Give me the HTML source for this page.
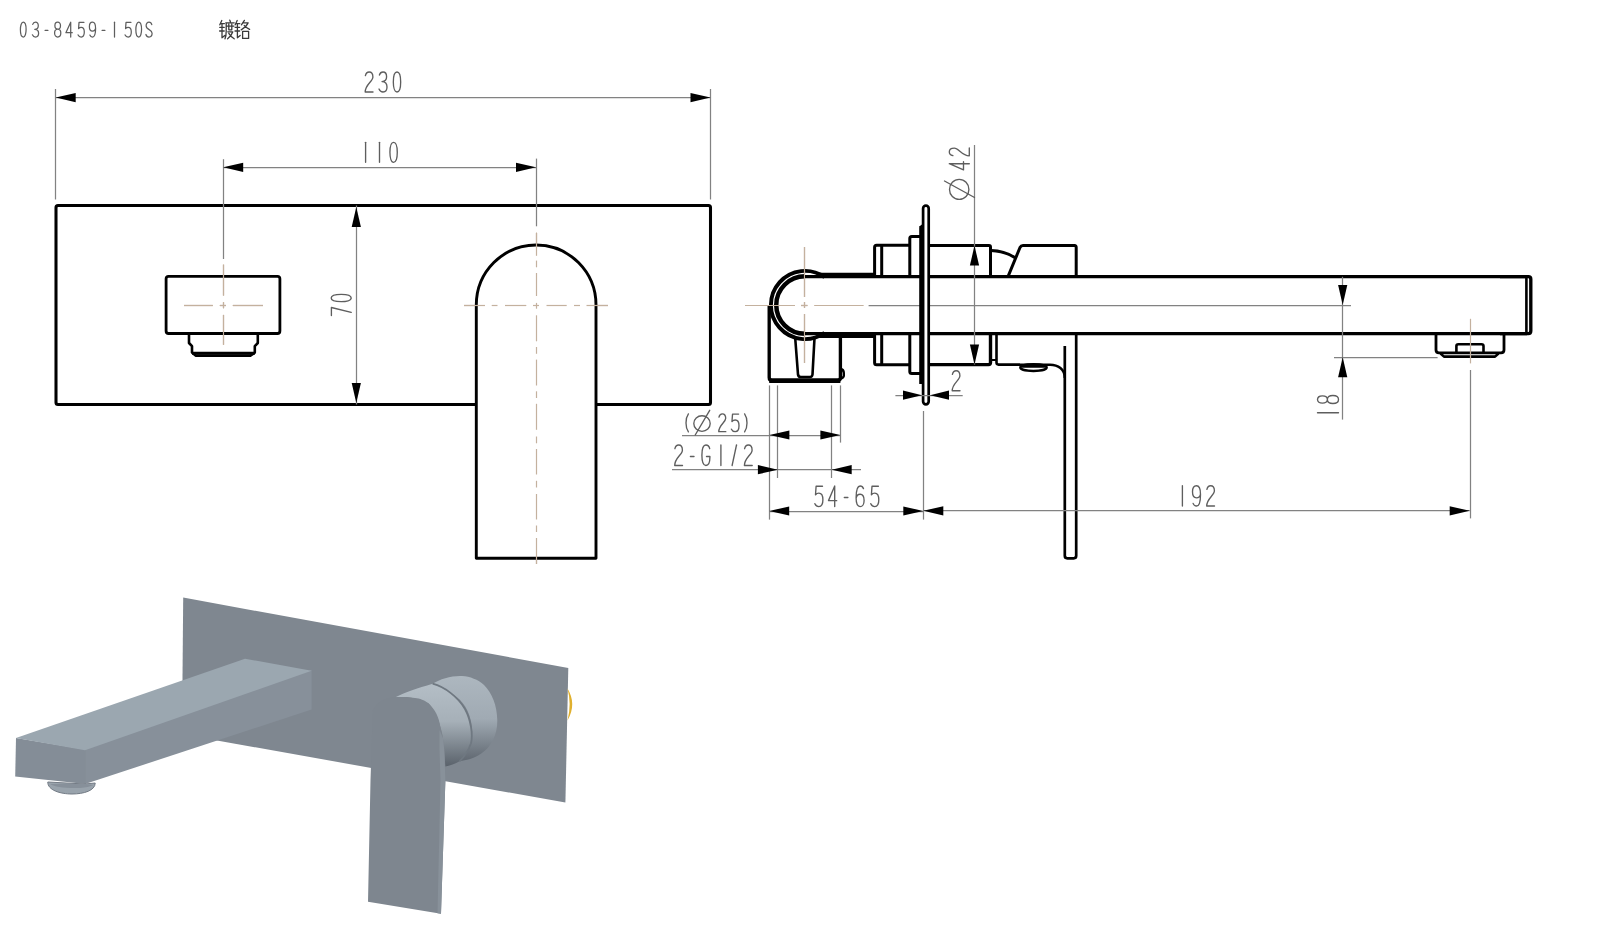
<!DOCTYPE html>
<html><head><meta charset="utf-8"><title>03-8459-150S</title>
<style>html,body{margin:0;padding:0;background:#fff;width:1600px;height:936px;overflow:hidden;font-family:"Liberation Sans",sans-serif;} svg{display:block;}</style>
</head><body>
<svg width="1600" height="936" viewBox="0 0 1600 936">
<rect x="0" y="0" width="1600" height="936" fill="#ffffff"/>
<path transform="translate(20.15,22.20) scale(0.7750,0.7400)" d="M4,0 C8.9,0 8.9,20 4,20 C-0.9,20 -0.9,0 4,0 Z" vector-effect="non-scaling-stroke" fill="none" stroke="#5e5e5e" stroke-width="1.25" stroke-linecap="round" stroke-linejoin="round"/><path transform="translate(32.40,22.20) scale(0.7750,0.7400)" d="M0.4,3 C1,1 2.4,0 4,0 C6.3,0 7.6,2 7.6,4.8 C7.6,7.8 5.6,9.6 3,9.6 C6,9.6 8,11.8 8,15 C8,18.3 6.3,20 4,20 C2.3,20 0.9,19 0,17" vector-effect="non-scaling-stroke" fill="none" stroke="#5e5e5e" stroke-width="1.25" stroke-linecap="round" stroke-linejoin="round"/><path transform="translate(43.40,22.20) scale(0.7750,0.7400)" d="M2.2,11.2 L5.8,11.2" vector-effect="non-scaling-stroke" fill="none" stroke="#5e5e5e" stroke-width="1.25" stroke-linecap="round" stroke-linejoin="round"/><path transform="translate(54.60,22.20) scale(0.7750,0.7400)" d="M4,9.4 C1.4,9.4 0.4,7.5 0.4,4.7 C0.4,1.8 1.8,0 4,0 C6.2,0 7.6,1.8 7.6,4.7 C7.6,7.5 6.6,9.4 4,9.4 C1.5,9.4 0,11.6 0,14.7 C0,18 1.7,20 4,20 C6.3,20 8,18 8,14.7 C8,11.6 6.5,9.4 4,9.4 Z" vector-effect="non-scaling-stroke" fill="none" stroke="#5e5e5e" stroke-width="1.25" stroke-linecap="round" stroke-linejoin="round"/><path transform="translate(65.90,22.20) scale(0.7750,0.7400)" d="M6.2,20 L6.2,0 L0,14.2 L8.2,14.2" vector-effect="non-scaling-stroke" fill="none" stroke="#5e5e5e" stroke-width="1.25" stroke-linecap="round" stroke-linejoin="round"/><path transform="translate(78.10,22.20) scale(0.7750,0.7400)" d="M7.6,0.2 L1.2,0.2 L0.6,8.6 C1.5,7.4 2.7,6.9 4,6.9 C6.5,6.9 8,9.5 8,13.4 C8,17.4 6.3,20 4,20 C2.2,20 0.8,19 0,17.2" vector-effect="non-scaling-stroke" fill="none" stroke="#5e5e5e" stroke-width="1.25" stroke-linecap="round" stroke-linejoin="round"/><path transform="translate(89.40,22.20) scale(0.7750,0.7400)" d="M0.6,17.4 C1.2,19.1 2.4,20 4,20 C6.6,20 8,15.8 8,8.5 C8,3 6.2,0 4,0 C1.6,0 0,2.6 0,6 C0,9.6 1.7,12 4,12 C6,12 7.5,10.6 8,8.2" vector-effect="non-scaling-stroke" fill="none" stroke="#5e5e5e" stroke-width="1.25" stroke-linecap="round" stroke-linejoin="round"/><path transform="translate(100.40,22.20) scale(0.7750,0.7400)" d="M2.2,11.2 L5.8,11.2" vector-effect="non-scaling-stroke" fill="none" stroke="#5e5e5e" stroke-width="1.25" stroke-linecap="round" stroke-linejoin="round"/><path transform="translate(111.40,22.20) scale(0.7750,0.7400)" d="M4,0 L4,20" vector-effect="non-scaling-stroke" fill="none" stroke="#5e5e5e" stroke-width="1.25" stroke-linecap="round" stroke-linejoin="round"/><path transform="translate(125.10,22.20) scale(0.7750,0.7400)" d="M7.6,0.2 L1.2,0.2 L0.6,8.6 C1.5,7.4 2.7,6.9 4,6.9 C6.5,6.9 8,9.5 8,13.4 C8,17.4 6.3,20 4,20 C2.2,20 0.8,19 0,17.2" vector-effect="non-scaling-stroke" fill="none" stroke="#5e5e5e" stroke-width="1.25" stroke-linecap="round" stroke-linejoin="round"/><path transform="translate(135.60,22.20) scale(0.7750,0.7400)" d="M4,0 C8.9,0 8.9,20 4,20 C-0.9,20 -0.9,0 4,0 Z" vector-effect="non-scaling-stroke" fill="none" stroke="#5e5e5e" stroke-width="1.25" stroke-linecap="round" stroke-linejoin="round"/><path transform="translate(145.90,22.20) scale(0.7750,0.7400)" d="M7.6,3.4 C7.1,1.2 5.7,0 4,0 C1.8,0 0.3,1.8 0.3,4.8 C0.3,11 8,9 8,15 C8,18.2 6.3,20 4,20 C2.1,20 0.6,18.8 0,16.6" vector-effect="non-scaling-stroke" fill="none" stroke="#5e5e5e" stroke-width="1.25" stroke-linecap="round" stroke-linejoin="round"/>
<path transform="translate(219.2,20.2)" d="M2.6,0.3 L0.6,4.6 M1.6,3.4 L5.2,3.4 M0.6,7.2 L5,7.2 M0.4,10.8 L5,10.8 M2.8,3.6 L2.8,17.6 L5.6,15.2 M10.6,0 L11.2,1.6 M6.6,2.6 L15,2.6 M7,2.6 L7,11 Q7,15.8 5.8,18.6 M7.6,6 L14.6,6 M9.6,4 L9.6,9.6 M12.6,4 L12.6,9.6 M9.6,9.6 L12.6,9.6 M8.6,11.6 L13.6,11.6 Q12.4,15.6 8.4,18.6 M9.6,13.2 Q11.6,16.6 15,18.6" fill="none" stroke="#3a3a3a" stroke-width="1.3" stroke-linecap="round" stroke-linejoin="round"/>
<path transform="translate(234.6,20.2)" d="M2.6,0.3 L0.6,4.6 M1.6,3.4 L5.2,3.4 M0.6,7.2 L5,7.2 M0.4,10.8 L5,10.8 M2.8,3.6 L2.8,17.6 L5.6,15.2 M9.8,0.2 L6.8,4.6 M9,2.6 L13.6,2.6 Q11.6,7 6.6,9.6 M9.6,5.2 Q11.6,7.6 15,9.2 M8,11.2 L14,11.2 L14,18.2 L8,18.2 Z" fill="none" stroke="#3a3a3a" stroke-width="1.3" stroke-linecap="round" stroke-linejoin="round"/>
<line x1="464.00" y1="305.50" x2="485.00" y2="305.50" stroke="#c4b19e" stroke-width="1.2" stroke-linecap="butt"/><line x1="491.70" y1="305.50" x2="497.50" y2="305.50" stroke="#c4b19e" stroke-width="1.2" stroke-linecap="butt"/><line x1="505.00" y1="305.50" x2="526.30" y2="305.50" stroke="#c4b19e" stroke-width="1.2" stroke-linecap="butt"/><line x1="533.00" y1="305.50" x2="539.00" y2="305.50" stroke="#c4b19e" stroke-width="1.2" stroke-linecap="butt"/><line x1="546.50" y1="305.50" x2="566.70" y2="305.50" stroke="#c4b19e" stroke-width="1.2" stroke-linecap="butt"/><line x1="574.00" y1="305.50" x2="580.00" y2="305.50" stroke="#c4b19e" stroke-width="1.2" stroke-linecap="butt"/><line x1="586.50" y1="305.50" x2="608.00" y2="305.50" stroke="#c4b19e" stroke-width="1.2" stroke-linecap="butt"/>
<line x1="536.50" y1="232.70" x2="536.50" y2="255.80" stroke="#c4b19e" stroke-width="1.2" stroke-linecap="butt"/><line x1="536.50" y1="260.60" x2="536.50" y2="267.30" stroke="#c4b19e" stroke-width="1.2" stroke-linecap="butt"/><line x1="536.50" y1="273.00" x2="536.50" y2="296.00" stroke="#c4b19e" stroke-width="1.2" stroke-linecap="butt"/><line x1="536.50" y1="302.90" x2="536.50" y2="308.70" stroke="#c4b19e" stroke-width="1.2" stroke-linecap="butt"/><line x1="536.50" y1="315.30" x2="536.50" y2="341.30" stroke="#c4b19e" stroke-width="1.2" stroke-linecap="butt"/><line x1="536.50" y1="347.00" x2="536.50" y2="353.80" stroke="#c4b19e" stroke-width="1.2" stroke-linecap="butt"/><line x1="536.50" y1="359.60" x2="536.50" y2="385.50" stroke="#c4b19e" stroke-width="1.2" stroke-linecap="butt"/><line x1="536.50" y1="391.30" x2="536.50" y2="398.00" stroke="#c4b19e" stroke-width="1.2" stroke-linecap="butt"/><line x1="536.50" y1="403.80" x2="536.50" y2="429.80" stroke="#c4b19e" stroke-width="1.2" stroke-linecap="butt"/><line x1="536.50" y1="436.50" x2="536.50" y2="443.30" stroke="#c4b19e" stroke-width="1.2" stroke-linecap="butt"/><line x1="536.50" y1="449.00" x2="536.50" y2="474.50" stroke="#c4b19e" stroke-width="1.2" stroke-linecap="butt"/><line x1="536.50" y1="480.80" x2="536.50" y2="487.50" stroke="#c4b19e" stroke-width="1.2" stroke-linecap="butt"/><line x1="536.50" y1="494.00" x2="536.50" y2="519.50" stroke="#c4b19e" stroke-width="1.2" stroke-linecap="butt"/><line x1="536.50" y1="525.50" x2="536.50" y2="532.00" stroke="#c4b19e" stroke-width="1.2" stroke-linecap="butt"/><line x1="536.50" y1="538.00" x2="536.50" y2="564.00" stroke="#c4b19e" stroke-width="1.2" stroke-linecap="butt"/>
<line x1="184.00" y1="305.50" x2="212.80" y2="305.50" stroke="#c4b19e" stroke-width="1.2" stroke-linecap="butt"/><line x1="219.80" y1="305.50" x2="226.00" y2="305.50" stroke="#c4b19e" stroke-width="1.2" stroke-linecap="butt"/><line x1="232.80" y1="305.50" x2="263.00" y2="305.50" stroke="#c4b19e" stroke-width="1.2" stroke-linecap="butt"/>
<line x1="223.50" y1="264.60" x2="223.50" y2="295.60" stroke="#c4b19e" stroke-width="1.2" stroke-linecap="butt"/><line x1="223.50" y1="302.20" x2="223.50" y2="308.30" stroke="#c4b19e" stroke-width="1.2" stroke-linecap="butt"/><line x1="223.50" y1="314.90" x2="223.50" y2="344.80" stroke="#c4b19e" stroke-width="1.2" stroke-linecap="butt"/>
<rect x="56" y="205.5" width="654.5" height="199" rx="2" fill="none" stroke="#000" stroke-width="3.05"/>
<path d="M476.3,558.3 L476.3,305 A59.85,60 0 0 1 596,305 L596,558.3 Z" fill="#fff" stroke="#000" stroke-width="2.9" stroke-linejoin="round"/>
<line x1="536.50" y1="232.70" x2="536.50" y2="255.80" stroke="#c4b19e" stroke-width="1.2" stroke-linecap="butt"/><line x1="536.50" y1="260.60" x2="536.50" y2="267.30" stroke="#c4b19e" stroke-width="1.2" stroke-linecap="butt"/><line x1="536.50" y1="273.00" x2="536.50" y2="296.00" stroke="#c4b19e" stroke-width="1.2" stroke-linecap="butt"/><line x1="536.50" y1="302.90" x2="536.50" y2="308.70" stroke="#c4b19e" stroke-width="1.2" stroke-linecap="butt"/><line x1="536.50" y1="315.30" x2="536.50" y2="341.30" stroke="#c4b19e" stroke-width="1.2" stroke-linecap="butt"/><line x1="536.50" y1="347.00" x2="536.50" y2="353.80" stroke="#c4b19e" stroke-width="1.2" stroke-linecap="butt"/><line x1="536.50" y1="359.60" x2="536.50" y2="385.50" stroke="#c4b19e" stroke-width="1.2" stroke-linecap="butt"/><line x1="536.50" y1="391.30" x2="536.50" y2="398.00" stroke="#c4b19e" stroke-width="1.2" stroke-linecap="butt"/><line x1="536.50" y1="403.80" x2="536.50" y2="429.80" stroke="#c4b19e" stroke-width="1.2" stroke-linecap="butt"/><line x1="536.50" y1="436.50" x2="536.50" y2="443.30" stroke="#c4b19e" stroke-width="1.2" stroke-linecap="butt"/><line x1="536.50" y1="449.00" x2="536.50" y2="474.50" stroke="#c4b19e" stroke-width="1.2" stroke-linecap="butt"/><line x1="536.50" y1="480.80" x2="536.50" y2="487.50" stroke="#c4b19e" stroke-width="1.2" stroke-linecap="butt"/><line x1="536.50" y1="494.00" x2="536.50" y2="519.50" stroke="#c4b19e" stroke-width="1.2" stroke-linecap="butt"/><line x1="536.50" y1="525.50" x2="536.50" y2="532.00" stroke="#c4b19e" stroke-width="1.2" stroke-linecap="butt"/><line x1="536.50" y1="538.00" x2="536.50" y2="564.00" stroke="#c4b19e" stroke-width="1.2" stroke-linecap="butt"/>
<line x1="464.00" y1="305.50" x2="485.00" y2="305.50" stroke="#c4b19e" stroke-width="1.2" stroke-linecap="butt"/><line x1="491.70" y1="305.50" x2="497.50" y2="305.50" stroke="#c4b19e" stroke-width="1.2" stroke-linecap="butt"/><line x1="505.00" y1="305.50" x2="526.30" y2="305.50" stroke="#c4b19e" stroke-width="1.2" stroke-linecap="butt"/><line x1="533.00" y1="305.50" x2="539.00" y2="305.50" stroke="#c4b19e" stroke-width="1.2" stroke-linecap="butt"/><line x1="546.50" y1="305.50" x2="566.70" y2="305.50" stroke="#c4b19e" stroke-width="1.2" stroke-linecap="butt"/><line x1="574.00" y1="305.50" x2="580.00" y2="305.50" stroke="#c4b19e" stroke-width="1.2" stroke-linecap="butt"/><line x1="586.50" y1="305.50" x2="608.00" y2="305.50" stroke="#c4b19e" stroke-width="1.2" stroke-linecap="butt"/>
<rect x="166.1" y="276.3" width="113.8" height="57.2" rx="2.5" fill="none" stroke="#000" stroke-width="2.8"/>
<path d="M189,334 L189,343 L192,346.2 L192,352.6 L195.6,355.6 L250.4,355.6 L254.8,352.6 L254.8,346.2 L257.8,343 L257.8,334" fill="none" stroke="#000" stroke-width="2.6" stroke-linejoin="round"/>
<line x1="192.00" y1="353.20" x2="254.80" y2="353.20" stroke="#000" stroke-width="3.0" stroke-linecap="butt"/>
<line x1="184.00" y1="305.50" x2="212.80" y2="305.50" stroke="#c4b19e" stroke-width="1.2" stroke-linecap="butt"/><line x1="219.80" y1="305.50" x2="226.00" y2="305.50" stroke="#c4b19e" stroke-width="1.2" stroke-linecap="butt"/><line x1="232.80" y1="305.50" x2="263.00" y2="305.50" stroke="#c4b19e" stroke-width="1.2" stroke-linecap="butt"/>
<line x1="223.50" y1="264.60" x2="223.50" y2="295.60" stroke="#c4b19e" stroke-width="1.2" stroke-linecap="butt"/><line x1="223.50" y1="302.20" x2="223.50" y2="308.30" stroke="#c4b19e" stroke-width="1.2" stroke-linecap="butt"/><line x1="223.50" y1="314.90" x2="223.50" y2="344.80" stroke="#c4b19e" stroke-width="1.2" stroke-linecap="butt"/>
<line x1="55.50" y1="89.00" x2="55.50" y2="199.50" stroke="#828282" stroke-width="1.25" stroke-linecap="butt"/>
<line x1="710.50" y1="89.00" x2="710.50" y2="199.50" stroke="#828282" stroke-width="1.25" stroke-linecap="butt"/>
<line x1="55.70" y1="97.50" x2="710.50" y2="97.50" stroke="#828282" stroke-width="1.25" stroke-linecap="butt"/>
<polygon points="55.70,97.60 75.70,93.00 75.70,102.20" fill="#000"/>
<polygon points="710.50,97.60 690.50,93.00 690.50,102.20" fill="#000"/>
<path transform="translate(365.00,72.00) scale(1.0000,1.0000)" d="M0.4,3.6 C1,1.2 2.4,0 4.1,0 C6.4,0 7.9,2 7.9,5 C7.9,9.5 0.2,12.5 0.2,20 L8,20" vector-effect="non-scaling-stroke" fill="none" stroke="#5e5e5e" stroke-width="1.35" stroke-linecap="round" stroke-linejoin="round"/><path transform="translate(379.00,72.00) scale(1.0000,1.0000)" d="M0.4,3 C1,1 2.4,0 4,0 C6.3,0 7.6,2 7.6,4.8 C7.6,7.8 5.6,9.6 3,9.6 C6,9.6 8,11.8 8,15 C8,18.3 6.3,20 4,20 C2.3,20 0.9,19 0,17" vector-effect="non-scaling-stroke" fill="none" stroke="#5e5e5e" stroke-width="1.35" stroke-linecap="round" stroke-linejoin="round"/><path transform="translate(393.00,72.00) scale(1.0000,1.0000)" d="M4,0 C8.9,0 8.9,20 4,20 C-0.9,20 -0.9,0 4,0 Z" vector-effect="non-scaling-stroke" fill="none" stroke="#5e5e5e" stroke-width="1.35" stroke-linecap="round" stroke-linejoin="round"/>
<line x1="223.50" y1="159.20" x2="223.50" y2="259.00" stroke="#828282" stroke-width="1.25" stroke-linecap="butt"/>
<line x1="536.50" y1="158.60" x2="536.50" y2="226.30" stroke="#828282" stroke-width="1.25" stroke-linecap="butt"/>
<line x1="223.20" y1="167.50" x2="536.00" y2="167.50" stroke="#828282" stroke-width="1.25" stroke-linecap="butt"/>
<polygon points="223.20,167.30 243.20,162.70 243.20,171.90" fill="#000"/>
<polygon points="536.00,167.30 516.00,162.70 516.00,171.90" fill="#000"/>
<path transform="translate(361.60,142.30) scale(1.0000,1.0000)" d="M4,0 L4,20" vector-effect="non-scaling-stroke" fill="none" stroke="#5e5e5e" stroke-width="1.35" stroke-linecap="round" stroke-linejoin="round"/><path transform="translate(375.50,142.30) scale(1.0000,1.0000)" d="M4,0 L4,20" vector-effect="non-scaling-stroke" fill="none" stroke="#5e5e5e" stroke-width="1.35" stroke-linecap="round" stroke-linejoin="round"/><path transform="translate(389.60,142.30) scale(1.0000,1.0000)" d="M4,0 C8.9,0 8.9,20 4,20 C-0.9,20 -0.9,0 4,0 Z" vector-effect="non-scaling-stroke" fill="none" stroke="#5e5e5e" stroke-width="1.35" stroke-linecap="round" stroke-linejoin="round"/>
<line x1="356.50" y1="205.50" x2="356.50" y2="404.50" stroke="#828282" stroke-width="1.25" stroke-linecap="butt"/>
<polygon points="356.30,207.00 351.70,227.00 360.90,227.00" fill="#000"/>
<polygon points="356.30,403.00 351.70,383.00 360.90,383.00" fill="#000"/>
<g transform="translate(331.2,319) rotate(-90)"><path transform="translate(3.50,0.00) scale(1.0000,1.0000)" d="M0,0.2 L8,0.2 L3.2,20" vector-effect="non-scaling-stroke" fill="none" stroke="#5e5e5e" stroke-width="1.35" stroke-linecap="round" stroke-linejoin="round"/><path transform="translate(17.00,0.00) scale(1.0000,1.0000)" d="M4,0 C8.9,0 8.9,20 4,20 C-0.9,20 -0.9,0 4,0 Z" vector-effect="non-scaling-stroke" fill="none" stroke="#5e5e5e" stroke-width="1.35" stroke-linecap="round" stroke-linejoin="round"/></g>
<line x1="745.00" y1="305.50" x2="795.00" y2="305.50" stroke="#c4b19e" stroke-width="1.2" stroke-linecap="butt"/><line x1="801.00" y1="305.50" x2="807.50" y2="305.50" stroke="#c4b19e" stroke-width="1.2" stroke-linecap="butt"/><line x1="814.40" y1="305.50" x2="863.40" y2="305.50" stroke="#c4b19e" stroke-width="1.2" stroke-linecap="butt"/>
<line x1="804.50" y1="247.00" x2="804.50" y2="297.00" stroke="#c4b19e" stroke-width="1.2" stroke-linecap="butt"/><line x1="804.50" y1="302.00" x2="804.50" y2="308.00" stroke="#c4b19e" stroke-width="1.2" stroke-linecap="butt"/><line x1="804.50" y1="314.00" x2="804.50" y2="363.00" stroke="#c4b19e" stroke-width="1.2" stroke-linecap="butt"/>
<line x1="868.60" y1="305.50" x2="1351.00" y2="305.50" stroke="#828282" stroke-width="1.25" stroke-linecap="butt"/>
<path d="M769.2,305 L769.2,377.6 Q769.2,380.6 772.2,380.6 L837.4,380.6 Q840.4,380.6 840.4,377.6 L840.4,336" fill="none" stroke="#000" stroke-width="3.35" stroke-linejoin="round"/>
<line x1="769.20" y1="380.60" x2="840.40" y2="380.60" stroke="#000" stroke-width="4.6" stroke-linecap="butt"/>
<path d="M840.4,369 Q843.8,369.5 843.8,373 L843.8,376 Q843,378.5 840.4,378.5" fill="none" stroke="#000" stroke-width="2.4"/>
<path d="M795.2,338 L798,374.5 Q798.3,377 800.8,377 L809.8,377 Q812.3,377 812.5,374.5 L814.5,338" fill="none" stroke="#000" stroke-width="2.6" stroke-linejoin="round"/>
<path d="M824.56,277.07 A34.1,34.1 0 1 0 824.56,332.93" fill="none" stroke="#000" stroke-width="3.9"/>
<path d="M805,276.3 A28.75,28.75 0 0 0 805,333.8" fill="none" stroke="#000" stroke-width="4.5"/>
<line x1="804.50" y1="247.00" x2="804.50" y2="297.00" stroke="#c4b19e" stroke-width="1.2" stroke-linecap="butt"/><line x1="804.50" y1="302.00" x2="804.50" y2="308.00" stroke="#c4b19e" stroke-width="1.2" stroke-linecap="butt"/><line x1="804.50" y1="314.00" x2="804.50" y2="363.00" stroke="#c4b19e" stroke-width="1.2" stroke-linecap="butt"/>
<line x1="745.00" y1="305.50" x2="795.00" y2="305.50" stroke="#c4b19e" stroke-width="1.2" stroke-linecap="butt"/><line x1="801.00" y1="305.50" x2="807.50" y2="305.50" stroke="#c4b19e" stroke-width="1.2" stroke-linecap="butt"/><line x1="814.40" y1="305.50" x2="863.40" y2="305.50" stroke="#c4b19e" stroke-width="1.2" stroke-linecap="butt"/>
<line x1="805.00" y1="276.60" x2="1527.00" y2="276.60" stroke="#000" stroke-width="3.35" stroke-linecap="butt"/>
<line x1="805.00" y1="333.60" x2="1527.00" y2="333.60" stroke="#000" stroke-width="3.35" stroke-linecap="butt"/>
<line x1="819.00" y1="274.40" x2="874.60" y2="274.40" stroke="#000" stroke-width="3.4" stroke-linecap="butt"/>
<line x1="819.00" y1="336.40" x2="874.60" y2="336.40" stroke="#000" stroke-width="3.4" stroke-linecap="butt"/>
<path d="M1500,276.6 L1528.3,276.6 Q1530.8,276.6 1530.8,279 L1530.8,331 Q1530.8,333.6 1528.3,333.6 L1500,333.6" fill="none" stroke="#000" stroke-width="3.35" stroke-linejoin="round"/>
<line x1="1526.40" y1="278.00" x2="1526.40" y2="332.00" stroke="#000" stroke-width="2.6" stroke-linecap="butt"/>
<path d="M1436,334 L1436,350 Q1436,352.8 1439,352.8 L1501,352.8 Q1504,352.8 1504,350 L1504,334" fill="none" stroke="#000" stroke-width="2.8" stroke-linejoin="round"/>
<path d="M1440.5,353.5 L1444,356.6 L1495,356.6 L1498.5,353.5" fill="none" stroke="#000" stroke-width="2.6" stroke-linejoin="round"/>
<path d="M1456.4,352 L1456.4,346 Q1456.4,344.2 1458.4,344.2 L1481.5,344.2 Q1483.5,344.2 1483.5,346 L1483.5,352" fill="none" stroke="#000" stroke-width="2.6"/>
<line x1="1470.50" y1="318.80" x2="1470.50" y2="363.40" stroke="#c4b19e" stroke-width="1.2" stroke-linecap="butt"/>
<line x1="1470.50" y1="370.00" x2="1470.50" y2="518.40" stroke="#828282" stroke-width="1.25" stroke-linecap="butt"/>
<path d="M874.6,276.6 L874.6,247.2 Q874.6,245.2 876.6,245.2 L909.5,245.2 M874.6,333.6 L874.6,362.7 Q874.6,364.7 876.6,364.7 L909.5,364.7" fill="none" stroke="#000" stroke-width="3.0"/>
<line x1="881.70" y1="245.20" x2="881.70" y2="276.60" stroke="#000" stroke-width="3.0" stroke-linecap="butt"/>
<line x1="881.70" y1="333.60" x2="881.70" y2="364.70" stroke="#000" stroke-width="3.0" stroke-linecap="butt"/>
<path d="M909.8,276.6 L909.8,238.4 Q909.8,236.4 911.8,236.4 L920,236.4 M909.8,333.6 L909.8,371.4 Q909.8,373.4 911.8,373.4 L920,373.4" fill="none" stroke="#000" stroke-width="3.0"/>
<path d="M919.7,384 L919.7,228 Q920,225 922,224.6 L922,384 Z" fill="#000"/>
<line x1="920.80" y1="226.00" x2="920.80" y2="384.00" stroke="#000" stroke-width="3.0" stroke-linecap="butt"/>
<rect x="923.1" y="205.7" width="5.6" height="198.7" rx="2.8" fill="#fff" stroke="#000" stroke-width="2.7"/>
<path d="M929,245.5 L989,245.5 Q990.5,245.5 990.5,247 L990.5,276.6" fill="none" stroke="#000" stroke-width="3.0"/>
<path d="M991,250.5 Q1005,251 1015.5,258" fill="none" stroke="#000" stroke-width="2.8"/>
<path d="M1008,276.6 L1020,247.5 Q1021,245.5 1023,245.5 L1074.5,245.5 Q1076.2,245.5 1076.2,247.5 L1076.2,276.6" fill="none" stroke="#000" stroke-width="3.0" stroke-linejoin="round"/>
<path d="M929,364.6 L988.5,364.6 Q990.5,364.6 990.5,362.6 L990.5,333.6" fill="none" stroke="#000" stroke-width="3.4"/>
<path d="M990.5,360 L996.5,360" fill="none" stroke="#000" stroke-width="2"/>
<path d="M996.5,333.6 L996.5,362.6 Q996.5,364.6 998.5,364.6 L1020,364.6" fill="none" stroke="#000" stroke-width="2.6"/>
<path d="M1020,364.8 L1050,364.8 C1058,364.8 1064.8,369 1064.8,378" fill="none" stroke="#000" stroke-width="2.5"/>
<path d="M1064.8,346 L1064.8,555.8 Q1064.8,558.3 1067.3,558.3 L1073.7,558.3 Q1076.2,558.3 1076.2,555.8 L1076.2,333.6" fill="none" stroke="#000" stroke-width="2.7" stroke-linejoin="round"/>
<ellipse cx="1033.5" cy="367.6" rx="13.2" ry="3.4" fill="#fff" stroke="#000" stroke-width="2.4"/>
<path d="M1021.5,367 Q1033.5,362.4 1045.5,367 Z" fill="#000" stroke="#000" stroke-width="1.5"/>
<line x1="974.50" y1="145.00" x2="974.50" y2="364.60" stroke="#828282" stroke-width="1.25" stroke-linecap="butt"/>
<polygon points="974.50,245.50 969.90,265.50 979.10,265.50" fill="#000"/>
<polygon points="974.50,364.60 969.90,344.60 979.10,344.60" fill="#000"/>
<g transform="translate(949.3,200.5) rotate(-90)"><ellipse cx="11.1" cy="9.9" rx="10.0" ry="9.7" fill="none" stroke="#5e5e5e" stroke-width="1.35"/><line x1="3" y1="25.2" x2="19.5" y2="-4.8" stroke="#5e5e5e" stroke-width="1.35" stroke-linecap="round"/><path transform="translate(30.60,0.00) scale(1.0000,1.0000)" d="M6.2,20 L6.2,0 L0,14.2 L8.2,14.2" vector-effect="non-scaling-stroke" fill="none" stroke="#5e5e5e" stroke-width="1.35" stroke-linecap="round" stroke-linejoin="round"/><path transform="translate(44.50,0.00) scale(1.0000,1.0000)" d="M0.4,3.6 C1,1.2 2.4,0 4.1,0 C6.4,0 7.9,2 7.9,5 C7.9,9.5 0.2,12.5 0.2,20 L8,20" vector-effect="non-scaling-stroke" fill="none" stroke="#5e5e5e" stroke-width="1.35" stroke-linecap="round" stroke-linejoin="round"/></g>
<line x1="1342.50" y1="276.80" x2="1342.50" y2="419.60" stroke="#828282" stroke-width="1.25" stroke-linecap="butt"/>
<line x1="1334.00" y1="357.50" x2="1437.60" y2="357.50" stroke="#828282" stroke-width="1.25" stroke-linecap="butt"/>
<polygon points="1342.70,305.00 1338.10,285.00 1347.30,285.00" fill="#000"/>
<polygon points="1342.70,357.20 1338.10,377.20 1347.30,377.20" fill="#000"/>
<g transform="translate(1317.5,418.5) rotate(-90)"><path transform="translate(1.80,0.00) scale(1.0000,1.0500)" d="M4,0 L4,20" vector-effect="non-scaling-stroke" fill="none" stroke="#5e5e5e" stroke-width="1.35" stroke-linecap="round" stroke-linejoin="round"/><path transform="translate(15.00,0.00) scale(1.0000,1.0500)" d="M4,9.4 C1.4,9.4 0.4,7.5 0.4,4.7 C0.4,1.8 1.8,0 4,0 C6.2,0 7.6,1.8 7.6,4.7 C7.6,7.5 6.6,9.4 4,9.4 C1.5,9.4 0,11.6 0,14.7 C0,18 1.7,20 4,20 C6.3,20 8,18 8,14.7 C8,11.6 6.5,9.4 4,9.4 Z" vector-effect="non-scaling-stroke" fill="none" stroke="#5e5e5e" stroke-width="1.35" stroke-linecap="round" stroke-linejoin="round"/></g>
<line x1="769.50" y1="385.40" x2="769.50" y2="519.60" stroke="#828282" stroke-width="1.25" stroke-linecap="butt"/>
<line x1="777.50" y1="385.40" x2="777.50" y2="478.00" stroke="#828282" stroke-width="1.25" stroke-linecap="butt"/>
<line x1="831.50" y1="385.40" x2="831.50" y2="478.00" stroke="#828282" stroke-width="1.25" stroke-linecap="butt"/>
<line x1="840.50" y1="385.40" x2="840.50" y2="442.60" stroke="#828282" stroke-width="1.25" stroke-linecap="butt"/>
<line x1="923.50" y1="411.00" x2="923.50" y2="519.60" stroke="#828282" stroke-width="1.25" stroke-linecap="butt"/>
<line x1="682.00" y1="435.50" x2="840.40" y2="435.50" stroke="#828282" stroke-width="1.25" stroke-linecap="butt"/>
<polygon points="769.40,435.00 789.40,430.40 789.40,439.60" fill="#000"/>
<polygon points="840.40,435.00 820.40,430.40 820.40,439.60" fill="#000"/>
<path transform="translate(685.00,413.90) scale(1.0000,0.9000)" d="M3.4,0 C0.2,5 0.2,15 3.4,20" vector-effect="non-scaling-stroke" fill="none" stroke="#5e5e5e" stroke-width="1.35" stroke-linecap="round" stroke-linejoin="round"/><ellipse cx="702" cy="423.5" rx="8.2" ry="7.8" fill="none" stroke="#5e5e5e" stroke-width="1.35"/><line x1="695.2" y1="435" x2="709.7" y2="410.3" stroke="#5e5e5e" stroke-width="1.35" stroke-linecap="round"/><path transform="translate(718.60,413.90) scale(0.9000,0.8900)" d="M0.4,3.6 C1,1.2 2.4,0 4.1,0 C6.4,0 7.9,2 7.9,5 C7.9,9.5 0.2,12.5 0.2,20 L8,20" vector-effect="non-scaling-stroke" fill="none" stroke="#5e5e5e" stroke-width="1.35" stroke-linecap="round" stroke-linejoin="round"/><path transform="translate(731.40,413.90) scale(0.9500,0.8900)" d="M7.6,0.2 L1.2,0.2 L0.6,8.6 C1.5,7.4 2.7,6.9 4,6.9 C6.5,6.9 8,9.5 8,13.4 C8,17.4 6.3,20 4,20 C2.2,20 0.8,19 0,17.2" vector-effect="non-scaling-stroke" fill="none" stroke="#5e5e5e" stroke-width="1.35" stroke-linecap="round" stroke-linejoin="round"/><path transform="translate(744.00,413.90) scale(1.0000,0.9000)" d="M0.6,0 C3.8,5 3.8,15 0.6,20" vector-effect="non-scaling-stroke" fill="none" stroke="#5e5e5e" stroke-width="1.35" stroke-linecap="round" stroke-linejoin="round"/>
<line x1="672.00" y1="469.50" x2="861.00" y2="469.50" stroke="#828282" stroke-width="1.25" stroke-linecap="butt"/>
<polygon points="777.90,469.70 757.90,465.10 757.90,474.30" fill="#000"/>
<polygon points="831.70,469.70 851.70,465.10 851.70,474.30" fill="#000"/>
<path transform="translate(674.50,445.00) scale(1.0000,1.0250)" d="M0.4,3.6 C1,1.2 2.4,0 4.1,0 C6.4,0 7.9,2 7.9,5 C7.9,9.5 0.2,12.5 0.2,20 L8,20" vector-effect="non-scaling-stroke" fill="none" stroke="#5e5e5e" stroke-width="1.35" stroke-linecap="round" stroke-linejoin="round"/><path transform="translate(688.20,445.00) scale(1.0000,1.0250)" d="M2.2,11.2 L5.8,11.2" vector-effect="non-scaling-stroke" fill="none" stroke="#5e5e5e" stroke-width="1.35" stroke-linecap="round" stroke-linejoin="round"/><path transform="translate(701.90,445.00) scale(1.0000,1.0250)" d="M7.8,3.6 C7.2,1.2 5.8,0 4,0 C1.3,0 0,4 0,10 C0,16.2 1.4,20 4,20 C6.6,20 8,17 8,12 L8,11.2 L4.6,11.2" vector-effect="non-scaling-stroke" fill="none" stroke="#5e5e5e" stroke-width="1.35" stroke-linecap="round" stroke-linejoin="round"/><path transform="translate(716.90,445.00) scale(1.0000,1.0250)" d="M4,0 L4,20" vector-effect="non-scaling-stroke" fill="none" stroke="#5e5e5e" stroke-width="1.35" stroke-linecap="round" stroke-linejoin="round"/><path transform="translate(730.30,445.00) scale(1.0000,1.0250)" d="M6.2,0 L1.8,20" vector-effect="non-scaling-stroke" fill="none" stroke="#5e5e5e" stroke-width="1.35" stroke-linecap="round" stroke-linejoin="round"/><path transform="translate(744.20,445.00) scale(1.0000,1.0250)" d="M0.4,3.6 C1,1.2 2.4,0 4.1,0 C6.4,0 7.9,2 7.9,5 C7.9,9.5 0.2,12.5 0.2,20 L8,20" vector-effect="non-scaling-stroke" fill="none" stroke="#5e5e5e" stroke-width="1.35" stroke-linecap="round" stroke-linejoin="round"/>
<line x1="769.20" y1="511.50" x2="923.30" y2="511.50" stroke="#828282" stroke-width="1.25" stroke-linecap="butt"/>
<polygon points="769.20,511.00 789.20,506.40 789.20,515.60" fill="#000"/>
<polygon points="923.30,511.00 903.30,506.40 903.30,515.60" fill="#000"/>
<path transform="translate(814.90,486.00) scale(1.0000,1.0300)" d="M7.6,0.2 L1.2,0.2 L0.6,8.6 C1.5,7.4 2.7,6.9 4,6.9 C6.5,6.9 8,9.5 8,13.4 C8,17.4 6.3,20 4,20 C2.2,20 0.8,19 0,17.2" vector-effect="non-scaling-stroke" fill="none" stroke="#5e5e5e" stroke-width="1.35" stroke-linecap="round" stroke-linejoin="round"/><path transform="translate(828.50,486.00) scale(1.0000,1.0300)" d="M6.2,20 L6.2,0 L0,14.2 L8.2,14.2" vector-effect="non-scaling-stroke" fill="none" stroke="#5e5e5e" stroke-width="1.35" stroke-linecap="round" stroke-linejoin="round"/><path transform="translate(842.10,486.00) scale(1.0000,1.0300)" d="M2.2,11.2 L5.8,11.2" vector-effect="non-scaling-stroke" fill="none" stroke="#5e5e5e" stroke-width="1.35" stroke-linecap="round" stroke-linejoin="round"/><path transform="translate(856.10,486.00) scale(1.0000,1.0300)" d="M7.4,2.6 C6.8,0.9 5.6,0 4,0 C1.4,0 0,4.2 0,11.5 C0,17 1.8,20 4,20 C6.4,20 8,17.4 8,14 C8,10.4 6.3,8 4,8 C2,8 0.5,9.6 0,11.8" vector-effect="non-scaling-stroke" fill="none" stroke="#5e5e5e" stroke-width="1.35" stroke-linecap="round" stroke-linejoin="round"/><path transform="translate(870.80,486.00) scale(1.0000,1.0300)" d="M7.6,0.2 L1.2,0.2 L0.6,8.6 C1.5,7.4 2.7,6.9 4,6.9 C6.5,6.9 8,9.5 8,13.4 C8,17.4 6.3,20 4,20 C2.2,20 0.8,19 0,17.2" vector-effect="non-scaling-stroke" fill="none" stroke="#5e5e5e" stroke-width="1.35" stroke-linecap="round" stroke-linejoin="round"/>
<line x1="923.30" y1="510.50" x2="1469.70" y2="510.50" stroke="#828282" stroke-width="1.25" stroke-linecap="butt"/>
<polygon points="923.30,510.80 943.30,506.20 943.30,515.40" fill="#000"/>
<polygon points="1469.70,510.80 1449.70,506.20 1449.70,515.40" fill="#000"/>
<path transform="translate(1178.40,485.80) scale(1.0000,1.0100)" d="M4,0 L4,20" vector-effect="non-scaling-stroke" fill="none" stroke="#5e5e5e" stroke-width="1.35" stroke-linecap="round" stroke-linejoin="round"/><path transform="translate(1192.50,485.80) scale(1.0000,1.0100)" d="M0.6,17.4 C1.2,19.1 2.4,20 4,20 C6.6,20 8,15.8 8,8.5 C8,3 6.2,0 4,0 C1.6,0 0,2.6 0,6 C0,9.6 1.7,12 4,12 C6,12 7.5,10.6 8,8.2" vector-effect="non-scaling-stroke" fill="none" stroke="#5e5e5e" stroke-width="1.35" stroke-linecap="round" stroke-linejoin="round"/><path transform="translate(1206.50,485.80) scale(1.0000,1.0100)" d="M0.4,3.6 C1,1.2 2.4,0 4.1,0 C6.4,0 7.9,2 7.9,5 C7.9,9.5 0.2,12.5 0.2,20 L8,20" vector-effect="non-scaling-stroke" fill="none" stroke="#5e5e5e" stroke-width="1.35" stroke-linecap="round" stroke-linejoin="round"/>
<line x1="895.40" y1="395.50" x2="962.70" y2="395.50" stroke="#828282" stroke-width="1.25" stroke-linecap="butt"/>
<polygon points="922.00,395.20 903.00,390.60 903.00,399.80" fill="#000"/>
<polygon points="930.00,395.20 949.00,390.60 949.00,399.80" fill="#000"/>
<path transform="translate(952.00,370.80) scale(1.0000,1.0000)" d="M0.4,3.6 C1,1.2 2.4,0 4.1,0 C6.4,0 7.9,2 7.9,5 C7.9,9.5 0.2,12.5 0.2,20 L8,20" vector-effect="non-scaling-stroke" fill="none" stroke="#5e5e5e" stroke-width="1.35" stroke-linecap="round" stroke-linejoin="round"/>
<polygon points="183.2,597.6 568.3,667.9 565.4,802.5 182,734.3" fill="#7f8790"/>
<path d="M567.5,688.5 Q577,704 567.5,720.5 Q571.8,704 567.5,688.5 Z" fill="#e0b02e"/>
<polygon points="84,749.2 311.6,669.7 311.6,709.5 85,784" fill="#87909a"/>
<polygon points="16,738.1 85.6,749.5 85.6,784 15.2,776.6" fill="#848d97"/>
<polygon points="16,738.1 245,658.7 311.6,670.7 85,750.2" fill="#9ba7b0"/>
<path d="M47.8,782 C47.5,790 60,794 72,794 C84,794 95.2,790.5 95.2,783 L85,784 Z" fill="#99a3ac" stroke="#737b85" stroke-width="1"/>
<path d="M50,784 C55,787 65,788.5 80,788 C86,787.6 90,786.6 93.5,785 L85,784 Z" fill="#87909a"/>
<defs><linearGradient id="cylb" x1="0" y1="676" x2="0" y2="762" gradientUnits="userSpaceOnUse"><stop offset="0" stop-color="#adb7bf"/><stop offset="0.5" stop-color="#a0aab3"/><stop offset="1" stop-color="#5f6770"/></linearGradient><linearGradient id="cylf" x1="0" y1="684" x2="0" y2="767" gradientUnits="userSpaceOnUse"><stop offset="0" stop-color="#b4bec6"/><stop offset="0.45" stop-color="#a6b0b8"/><stop offset="1" stop-color="#59616a"/></linearGradient></defs>
<path d="M432.6,683.7 C440,679 452,675.5 462,676 C470,676.5 478,679.5 484,685 C492,693 497,705 497.3,720.3 C497.5,735 491,747 481.3,753.6 C474,758.5 466,760.5 459.5,761.3 C466,753 472.5,742 472.3,731.8 C472,716 465,703 456.9,697.2 C450,691.5 440,686 432.6,683.7 Z" fill="url(#cylb)"/>
<path d="M395.4,697.2 C403,693 418,688 432.6,683.7 C445,687 458,697 465,709 C471,720 473,735 471,743.3 C468,752 464,757 459.5,761.3 C455,764 450,765.5 445.4,766.4 L442.8,737 C440.5,724 436,712 428.7,703.6 C420,698 405,696.5 395.4,697.2 Z" fill="url(#cylf)"/>
<path d="M432.6,683.7 C445,687 458,697 465,709 C471,720 473,735 471,743.3 C468,752 464,757 459.5,761.3" fill="none" stroke="#6f7881" stroke-width="1.8"/>
<path d="M372.8,711 C376,702 385,697.5 395.4,697.2 C403,696.6 412,697 418.5,698.5 C424,700 426,701.5 428.7,703.6 C432,707 434.5,710 436.4,713.8 C438.5,718 439.5,722 440.3,726.7 L442.8,737 L444.1,749.7 L445.4,780 L441,913.8 L368,901.8 L370.5,780 Z" fill="#7e868f"/>
<path d="M439.5,730 L443,738 L444.3,750 L445.4,780 L441,913.8 L437.5,913.2 L440.5,780 L439.5,750 Z" fill="#88919a"/>
</svg>
</body></html>
